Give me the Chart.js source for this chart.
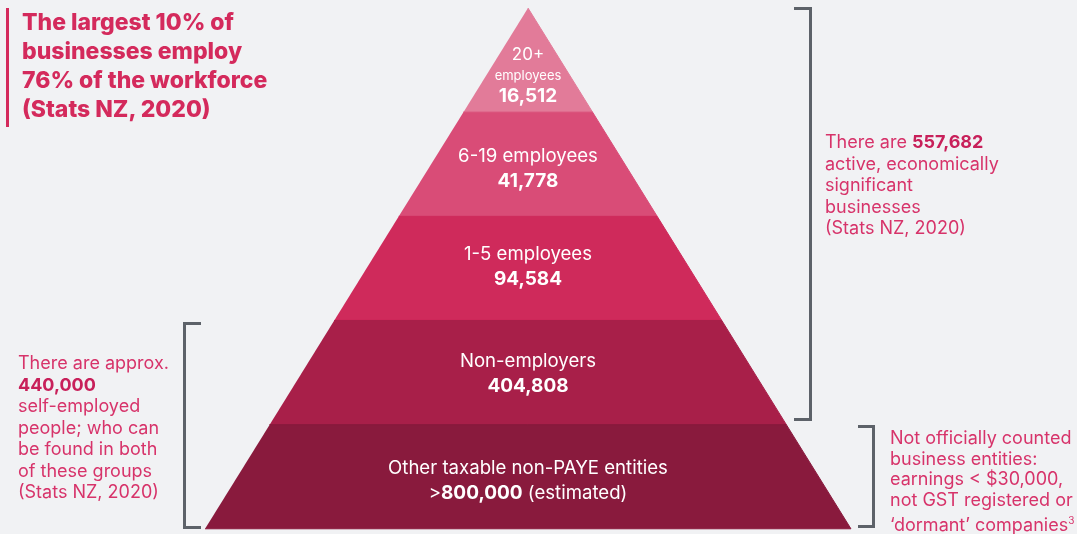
<!DOCTYPE html>
<html>
<head>
<meta charset="utf-8">
<script src="https://cdn.jsdelivr.net/npm/chart.js@4.4.1/dist/chart.umd.min.js"></script>
<style>
html, body { margin: 0; padding: 0; background: #f1f2f4; overflow: hidden; width: 1077px; height: 534px; }
#wrap { position: relative; width: 1077px; height: 534px; font-family: Inter, "Noto Sans", sans-serif; overflow: hidden; }
#pyramid { position: absolute; left: 0; top: 0; }
.title { position: absolute; left: 6px; top: 8px; height: 119px; border-left: 3px solid #d42a5c; padding-left: 13px;
  color: #d42a5c; font-weight: 800; font-size: 23px; line-height: 29px; letter-spacing: 0; white-space: nowrap; }
.note { position: absolute; color: #d7336a; font-size: 18px; line-height: 21.5px; white-space: nowrap; }
.note b { color: #c8205a; font-weight: 700; }
.br { position: absolute; border: 3px solid #5d6269; }
.lbl { position: absolute; color: #fff; text-align: center; transform: translate(-50%, -50%);
  white-space: nowrap; font-size: 18.6px; line-height: 25px; }
.lbl b { font-weight: 700; font-size: 19px; }
.lbl small { font-size: 13px; display: block; line-height: 20px; }
</style>
</head>
<body>
<div id="wrap">
  <canvas id="pyramid" width="1077" height="534"></canvas>

  <div class="title">The largest 10% of<br>businesses employ<br>76% of the workforce<br>(Stats NZ, 2020)</div>

  <div class="br" style="left:794px; top:7px; width:15px; height:408px; border-left:none;"></div>
  <div class="br" style="left:183px; top:322px; width:15px; height:201px; border-right:none;"></div>
  <div class="br" style="left:858px; top:425px; width:14px; height:97px; border-left:none;"></div>

  <div class="note" style="left:825px; top:131px;">There are <b>557,682</b><br>active, economically<br>significant<br>businesses<br>(Stats NZ, 2020)</div>
  <div class="note" style="left:18px; top:352px;">There are approx.<br><b>440,000</b><br>self-employed<br>people; who can<br>be found in both<br>of these groups<br>(Stats NZ, 2020)</div>
  <div class="note" style="left:890px; top:428px; line-height:20.5px;">Not officially counted<br>business entities:<br>earnings &lt; $30,000,<br>not GST registered or<br>‘dormant’ companies<sup style="font-size:10px">3</sup></div>
</div>

<script>
// layers from the base (0) up to the apex (4)
const layerNames = ["Other taxable non-PAYE entities", "Non-employers", "1-5 employees", "6-19 employees", "20+"];
const layerCounts = [800000, 404808, 94584, 41778, 16512];
const countPrefix = [">", "", "", "", ""];
const countSuffix = [" (estimated)", "", "", "", ""];
const layerColors = ["#891a3d", "#a81f49", "#cf2a5b", "#d94c77", "#e27b99"];

const levels = layerNames.length;

// half width of the pyramid at a given level (1 at base, 0 at apex)
function halfWidth(level) {
  return (levels - level) / levels;
}

function layerShape(i) {
  const pts = [
    { x: -halfWidth(i), y: i },
    { x: halfWidth(i), y: i }
  ];
  if (i + 1 < levels) {
    pts.push({ x: halfWidth(i + 1), y: i + 1 });
    pts.push({ x: -halfWidth(i + 1), y: i + 1 });
  } else {
    pts.push({ x: 0, y: levels });
  }
  return pts;
}

const datasets = layerNames.map((name, i) => ({
  label: name,
  data: layerShape(i),
  showLine: true,
  fill: "shape",
  backgroundColor: layerColors[i],
  borderColor: layerColors[i],
  borderWidth: 1,
  pointRadius: 0,
  pointHoverRadius: 0
}));

const chart = new Chart(document.getElementById("pyramid"), {
  type: "scatter",
  data: { datasets },
  options: {
    responsive: false,
    animation: false,
    events: [],
    layout: { padding: 0 },
    plugins: { legend: { display: false }, tooltip: { enabled: false } },
    scales: {
      x: { type: "linear", display: false, min: -1.635, max: 1.70 },
      y: { type: "linear", display: false, min: -0.05, max: 5.077 }
    }
  }
});

// labels inside each layer, placed through the chart scales
const labelY = [0.47, 0.5, 0.52, 0.46, 0.36];
const wrap = document.getElementById("wrap");
layerNames.forEach((name, i) => {
  const div = document.createElement("div");
  div.className = "lbl";
  const num = layerCounts[i].toLocaleString("en-US");
  if (i === levels - 1) {
    div.style.lineHeight = "21px";
    div.style.fontSize = "17px";
    div.innerHTML = name + "<small>employees</small><b>" + num + "</b>";
  } else {
    div.innerHTML = name + "<br>" + countPrefix[i] + "<b>" + num + "</b>" + countSuffix[i];
  }
  div.style.left = chart.scales.x.getPixelForValue(0) + "px";
  div.style.top = chart.scales.y.getPixelForValue(i + labelY[i]) + "px";
  wrap.appendChild(div);
});
</script>
</body>
</html>
